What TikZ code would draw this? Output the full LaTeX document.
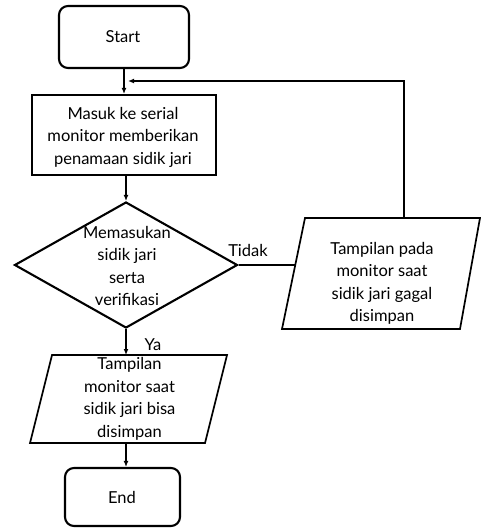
\documentclass[tikz,border=0pt]{standalone}
\usepackage{fontspec}
\setmainfont{Lato}
\usetikzlibrary{shapes.geometric,arrows.meta}
\begin{document}
\begin{tikzpicture}[x=1pt,y=-1pt,
  term/.style={draw, line width=2.1pt, rounded corners=9pt, minimum width=130pt, minimum height=62pt, inner sep=0pt},
  procbox/.style={draw, line width=2.1pt, minimum width=184pt, minimum height=80pt, inner sep=0pt},
  decis/.style={draw, diamond, line width=2.1pt, minimum width=223pt, minimum height=126pt, inner sep=0pt},
  io/.style={line width=1.7pt, line join=miter},
  txt/.style={align=center, font=\fontsize{16.5}{22.5}\selectfont, inner sep=0pt},
  lbl/.style={font=\fontsize{16.5}{20}\selectfont, inner sep=0pt},
  conn/.style={line width=1.2pt, -{Latex[length=6pt,width=5pt]}},
  plain/.style={line width=1.2pt}]
\useasboundingbox (0,0) rectangle (481,528);
\node[term] (start) at (124,37) {};
\node[procbox] (proc) at (124,135) {};
\node[decis] (dec) at (126,265) {};
\node[term, minimum width=115pt, minimum height=58pt] (end) at (122.5,497) {};
% parallelograms
\coordinate (f1) at (305,218); \coordinate (f2) at (480,218);
\coordinate (f3) at (460,329); \coordinate (f4) at (282,329);
\draw[io] (f1) -- (f2) -- (f3) -- (f4) -- cycle;
\coordinate (o1) at (52,355); \coordinate (o2) at (227,355);
\coordinate (o3) at (205,443); \coordinate (o4) at (30,443);
\draw[io] (o1) -- (o2) -- (o3) -- (o4) -- cycle;
\coordinate (failtop) at (404,218);
\coordinate (failleft) at (295.5,265);
\coordinate (oktop) at (126,355);
\coordinate (okbot) at (126,443);
\node[txt] (startt) at (123,37) {Start};
\node[txt] (proct) at (123,137) {Masuk ke serial\\monitor memberikan\\penamaan sidik jari};
\node[txt] (dect) at (127,266) {Memasukan\\sidik jari\\serta\\verifikasi};
\node[txt] (failt) at (382,283.5) {Tampilan pada\\monitor saat\\sidik jari gagal\\disimpan};
\node[txt] (okt) at (129.5,399) {Tampilan\\monitor saat\\sidik jari bisa\\disimpan};
\node[txt] (endt) at (122,497) {End};
\node[lbl] (tidak) at (248,250) {Tidak};
\node[lbl] (ya) at (153,345) {Ya};
\coordinate (join) at (128,81);
\draw[conn] (start.south) -- (start.south |- proc.north);
\draw[conn] (proc.south -| dec.north) -- (dec.north);
\draw[plain] (dec.east) -- (failleft);
\draw[conn] (failtop) |- (join);
\draw[conn] (dec.south) -- (oktop);
\draw[conn] (okbot) -- (okbot |- end.north);
\end{tikzpicture}
\end{document}
